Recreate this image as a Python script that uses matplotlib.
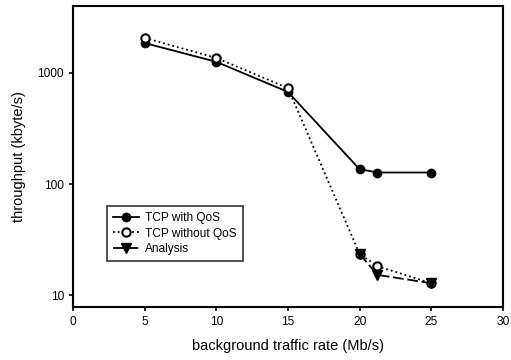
import matplotlib
matplotlib.use('Agg')
import matplotlib.pyplot as plt

plt.rcParams['font.family'] = ['Liberation Sans', 'DejaVu Sans']

rate_qos = [5, 10, 15, 20, 21.25, 25]
tput_qos = [1860, 1260, 675, 136, 127, 127]
rate_noqos = [5, 10, 15, 20, 21.25, 25]
tput_noqos = [2070, 1365, 732, 23.5, 18.2, 12.8]
rate_analysis = [20, 21.25, 25]
tput_analysis = [23.5, 15.2, 12.8]

fig = plt.figure(figsize=(5.11, 3.6), dpi=100)
ax = fig.add_axes([0.143, 0.147, 0.841, 0.836])

ax.plot(rate_qos, tput_qos, '-', color='black', lw=1.3, marker='o', ms=6,
        label='TCP with QoS')
ax.plot(rate_noqos, tput_noqos, ':', color='black', lw=1.3, marker='o', ms=6,
        mfc='white', mew=1.5, label='TCP without QoS')
ax.plot(rate_analysis, tput_analysis, '--', color='black', lw=1.3, marker='v', ms=7,
        dashes=(6, 2), label='Analysis')

ax.set_yscale('log')
ax.set_xlim(0, 30)
ax.set_ylim(7.8, 4000)
ax.set_yticks([10, 100, 1000])
ax.set_yticklabels(['10', '100', '1000'])
ax.yaxis.set_minor_locator(matplotlib.ticker.NullLocator())
ax.set_xticks([0, 5, 10, 15, 20, 25, 30])
ax.tick_params(labelsize=8.6, direction='out', length=3, width=1.2)
for s in ax.spines.values():
    s.set_linewidth(1.5)

ax.set_xlabel('background traffic rate (Mb/s)', fontsize=10.5, labelpad=8)
ax.set_ylabel('throughput (kbyte/s)', fontsize=10.5, labelpad=8)

leg = ax.legend(loc='lower left', bbox_to_anchor=(0.065, 0.133), fontsize=8.6,
                frameon=True, fancybox=False, edgecolor='black', handlelength=2.2,
                borderpad=0.5, labelspacing=0.3, handletextpad=0.5)
leg.get_frame().set_linewidth(1.2)

fig.savefig('out.png', dpi=100)
